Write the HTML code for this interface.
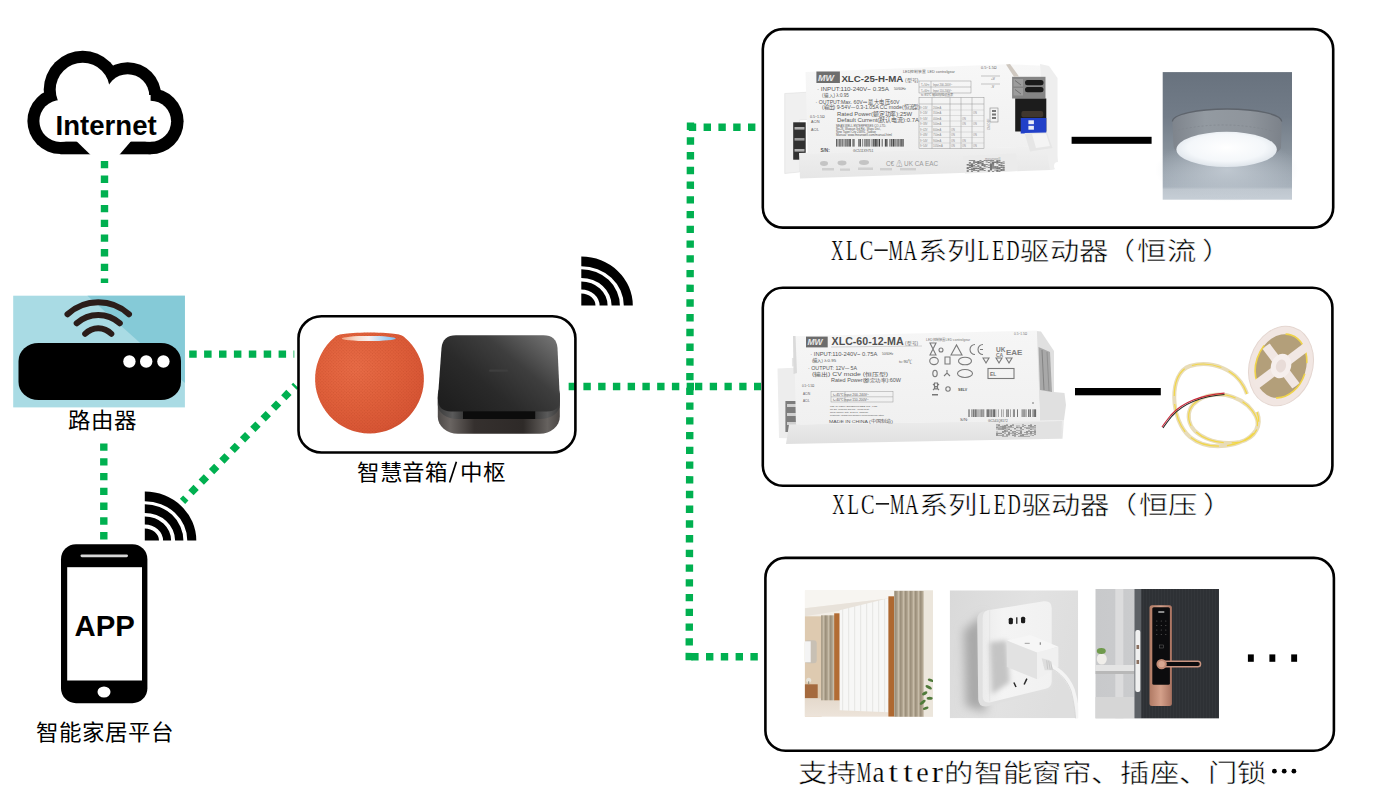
<!DOCTYPE html>
<html lang="zh-CN">
<head>
<meta charset="utf-8">
<title>Matter smart home diagram</title>
<style>
html,body{margin:0;padding:0;background:#fff;}
body{width:1377px;height:803px;position:relative;overflow:hidden;font-family:"Liberation Serif",serif;}
svg.main{position:absolute;left:0;top:0;}
.cj{font-family:"Liberation Serif",serif;font-size:29.3px;fill:#000;stroke:#fff;stroke-width:0.55px;}
.lt{font-family:"Liberation Serif",serif;font-size:29.7px;fill:#000;text-anchor:middle;stroke:#fff;stroke-width:0.25px;}
.sm{font-family:"Liberation Serif",serif;font-size:22.5px;fill:#000;}
.sa{font-family:"Liberation Sans",sans-serif;font-weight:bold;fill:#000;}
</style>
</head>
<body>
<svg class="main" width="1377" height="803" viewBox="0 0 1377 803">
<defs>

</defs>
<!-- green dotted connectors -->
<g stroke="#00b050" stroke-width="7.4" fill="none">
<line x1="104.5" y1="160.9" x2="104.5" y2="283" stroke-dasharray="7.3 7.4"/>
<line x1="103.8" y1="443.4" x2="103.8" y2="539.4" stroke-dasharray="7.4 7.37"/>
<line x1="189.2" y1="354.1" x2="294.3" y2="354.1" stroke-dasharray="7.5 7.4"/>
<line x1="182.5" y1="501.4" x2="295.8" y2="385.4" stroke-dasharray="7.4 7.36" stroke-dashoffset="2.67"/>
<line x1="568.65" y1="386.5" x2="694" y2="386.5" stroke-dasharray="7.4 7.35"/>
<line x1="695" y1="386.5" x2="761" y2="386.5" stroke-dasharray="7.3 7.45"/>
<line x1="690.5" y1="122.6" x2="689.2" y2="660.3" stroke-dasharray="7.35 7.38"/>
<line x1="688.8" y1="127.2" x2="756" y2="127.2" stroke-dasharray="7.4 7.4"/>
<line x1="691.2" y1="656.8" x2="758" y2="656.8" stroke-dasharray="7.4 7.4"/>
</g>
<!-- frames -->
<g fill="none" stroke="#000" stroke-width="2.6">
<rect x="762.8" y="29.1" width="570.4" height="198.5" rx="20" ry="20"/>
<rect x="762.8" y="287.8" width="569.6" height="197.9" rx="20" ry="20"/>
<rect x="765.4" y="557.9" width="568.5" height="192.8" rx="20" ry="20"/>
<rect x="298.5" y="316.3" width="276.9" height="136.2" rx="23" ry="22"/>
</g>
<rect x="1071.6" y="136.8" width="80" height="7" fill="#000"/>
<rect x="1075" y="388" width="85.8" height="7.3" fill="#000"/>
<rect x="1247.9" y="654.4" width="5.9" height="7.4" fill="#000"/>
<rect x="1269.4" y="654.4" width="5.9" height="7.4" fill="#000"/>
<rect x="1291.2" y="654.4" width="5.9" height="7.4" fill="#000"/>
<path transform="translate(581.3 305.6)" d="M0 -49.0A51.5 49.0 0 0 1 51.5 0L42.5 0A42.5 39.4 0 0 0 0 -39.4ZM0 -36.4A38.6 36.4 0 0 1 38.6 0L30.3 0A30.3 27.7 0 0 0 0 -27.7ZM0 -24.2A26.3 24.2 0 0 1 26.3 0L18.3 0A18.3 16.2 0 0 0 0 -16.2ZM0 0L0 -12.2A14.2 12.2 0 0 1 14.2 0Z" fill="#000"/>
<path transform="translate(144.8 540.6)" d="M0 -49.0A51.5 49.0 0 0 1 51.5 0L42.5 0A42.5 39.4 0 0 0 0 -39.4ZM0 -36.4A38.6 36.4 0 0 1 38.6 0L30.3 0A30.3 27.7 0 0 0 0 -27.7ZM0 -24.2A26.3 24.2 0 0 1 26.3 0L18.3 0A18.3 16.2 0 0 0 0 -16.2ZM0 0L0 -12.2A14.2 12.2 0 0 1 14.2 0Z" fill="#000"/>
<!-- cloud -->
<g fill="#000">
<circle cx="60.3" cy="121" r="32.9"/>
<circle cx="82.7" cy="89.8" r="39"/>
<circle cx="127.6" cy="95.8" r="33.6"/>
<circle cx="150.6" cy="121.3" r="33"/>
<rect x="60.3" y="100" width="90.3" height="54.3"/>
</g>
<g fill="#fff">
<circle cx="60.3" cy="121" r="20.9"/>
<circle cx="82.7" cy="89.8" r="27"/>
<circle cx="127.6" cy="95.8" r="21.6"/>
<circle cx="150.6" cy="121.3" r="20.5"/>
<rect x="60.3" y="95" width="90.3" height="46.6"/>
<polygon points="76.3,141 131.2,141 119.2,155 90.7,155"/>
</g>
<!-- router -->
<rect x="13.2" y="295.7" width="171.7" height="111.7" fill="#a9dbe4"/>
<polygon points="87.4,295.7 184.9,295.7 184.9,383" fill="#85cad7"/>
<rect x="18.5" y="343" width="162.5" height="57" rx="20" ry="18" fill="#000"/>
<circle cx="129.4" cy="361.5" r="6.2" fill="#fff"/>
<circle cx="146.2" cy="361.5" r="6.2" fill="#fff"/>
<circle cx="163.4" cy="361.5" r="6.2" fill="#fff"/>
<g fill="none" stroke="#2b1d1a" stroke-width="6" stroke-linecap="round">
<path d="M67.5 314.2A45.5 45.5 0 0 1 129 314.2"/>
<path d="M76.7 323.3A32 32 0 0 1 119.8 323.3"/>
<path d="M85.2 333.8A18 18 0 0 1 111.3 333.8"/>
</g>
<!-- phone -->
<rect x="61" y="544.2" width="86.4" height="159" rx="15" ry="15" fill="#000"/>
<rect x="67.2" y="567.2" width="74.8" height="113.3" fill="#fff"/>
<rect x="80.5" y="554.4" width="47.5" height="2.8" rx="1.4" fill="#d8d8d8"/>
<ellipse cx="104" cy="692" rx="6.5" ry="5.6" fill="#fff"/>


<defs>
<radialGradient id="hpg" cx="0.38" cy="0.35" r="0.75">
<stop offset="0" stop-color="#e86c47"/><stop offset="0.5" stop-color="#e0603b"/><stop offset="0.85" stop-color="#d85635"/><stop offset="1" stop-color="#cc4c2d"/>
</radialGradient>
<linearGradient id="hptop" x1="0" y1="0" x2="1" y2="0">
<stop offset="0" stop-color="#f0a080"/><stop offset="0.25" stop-color="#f6d8c8"/><stop offset="0.5" stop-color="#f8f0f0"/><stop offset="0.75" stop-color="#b8d8f4"/><stop offset="1" stop-color="#80bdf0"/>
</linearGradient>

<pattern id="mesh" width="2.3" height="2.3" patternUnits="userSpaceOnUse" patternTransform="rotate(45)">
<rect width="2.3" height="2.3" fill="none"/><rect width="1.15" height="1.15" fill="#a83818" fill-opacity="0.28"/>
</pattern>
</defs>
<path id="hpshape" d="M334.9 337 C337.5 334.8 343 332.8 369.5 332.6 C396 332.8 401.5 334.8 404.1 337 A54.4 54.4 0 1 1 334.9 337 Z" fill="url(#hpg)"/>
<path d="M334.9 337 C337.5 334.8 343 332.8 369.5 332.6 C396 332.8 401.5 334.8 404.1 337 A54.4 54.4 0 1 1 334.9 337 Z" fill="url(#mesh)"/>
<ellipse cx="368.7" cy="338.5" rx="27" ry="2.6" fill="url(#hptop)"/>


<defs>
<linearGradient id="hubtop" x1="0" y1="0.85" x2="1" y2="0.1">
<stop offset="0" stop-color="#1e1e1e"/><stop offset="0.35" stop-color="#2a2a2a"/><stop offset="0.65" stop-color="#3e3e3e"/><stop offset="1" stop-color="#727272"/>
</linearGradient>
<linearGradient id="hubside" x1="0" y1="0" x2="1" y2="0">
<stop offset="0" stop-color="#4e4a48"/><stop offset="0.1" stop-color="#6a6562"/><stop offset="0.3" stop-color="#35302e"/><stop offset="0.7" stop-color="#2e2a28"/><stop offset="0.9" stop-color="#66625f"/><stop offset="1" stop-color="#4a4644"/>
</linearGradient>
<linearGradient id="hubband" x1="0" y1="0" x2="1" y2="0">
<stop offset="0" stop-color="#3a3a3a"/><stop offset="0.12" stop-color="#5a5a5a"/><stop offset="0.25" stop-color="#2a2a2a"/><stop offset="0.75" stop-color="#2a2a2a"/><stop offset="0.9" stop-color="#5a5a5a"/><stop offset="1" stop-color="#3a3a3a"/>
</linearGradient>
</defs>
<rect x="437.8" y="380" width="122" height="53.8" rx="20" ry="17" fill="url(#hubside)"/>
<rect x="437.8" y="380" width="122" height="39" rx="20" ry="14" fill="url(#hubband)"/>
<path d="M456 335.3 L543.5 335.3 Q556.5 335.3 557.5 348 L559.8 398 Q560.3 411.5 547 411.5 L451 411.5 Q437.6 411.5 437.9 398 L441.5 348 Q442.7 335.3 456 335.3 Z" fill="url(#hubtop)"/>
<rect x="463" y="411.3" width="72.2" height="7.7" fill="#0c0c0c"/>
<rect x="489" y="369.6" width="19" height="2.2" rx="1" fill="#3e3e3e"/>


<defs>
<linearGradient id="clbg" x1="0" y1="0" x2="0" y2="1">
<stop offset="0" stop-color="#68727e"/><stop offset="0.35" stop-color="#727c88"/><stop offset="0.6" stop-color="#86909a"/><stop offset="0.8" stop-color="#9ea8b2"/><stop offset="0.9" stop-color="#a8b2bc"/><stop offset="0.92" stop-color="#bec6ce"/><stop offset="1" stop-color="#c6ced6"/>
</linearGradient>
<radialGradient id="clglow" cx="0.5" cy="0.5" r="0.5">
<stop offset="0" stop-color="#c8d0d8" stop-opacity="0.8"/><stop offset="1" stop-color="#c8d0d8" stop-opacity="0"/>
</radialGradient>
<linearGradient id="clside" x1="0" y1="0" x2="1" y2="0">
<stop offset="0" stop-color="#7e848c"/><stop offset="0.3" stop-color="#939aa1"/><stop offset="0.7" stop-color="#8f959c"/><stop offset="1" stop-color="#7c828a"/>
</linearGradient>
<radialGradient id="cldisc" cx="0.5" cy="0.45" r="0.55">
<stop offset="0" stop-color="#ffffff"/><stop offset="0.7" stop-color="#f4f7fa"/><stop offset="1" stop-color="#dfe5eb"/>
</radialGradient>
</defs>
<rect x="1162.7" y="72.1" width="129.3" height="127.6" fill="url(#clbg)"/>
<ellipse cx="1227" cy="170" rx="72" ry="32" fill="url(#clglow)"/>
<path d="M1172.4 121.6 A54.6 12.6 0 0 1 1281.7 121.6 L1281 148 A54 16 0 0 1 1173.5 146 Z" fill="url(#clside)"/>
<path d="M1172.4 121.6 A54.6 12.6 0 0 1 1281.7 121.6" fill="none" stroke="#5e646c" stroke-width="1.3"/>
<path d="M1174 131 Q1227 118 1280 133" fill="none" stroke="#7f858c" stroke-width="0.7" stroke-dasharray="2 2"/>
<ellipse cx="1226.6" cy="149.4" rx="50.2" ry="17.6" fill="url(#cldisc)"/>


<defs>
<linearGradient id="d1top" x1="0" y1="0" x2="0" y2="1">
<stop offset="0" stop-color="#f7f7f7"/><stop offset="1" stop-color="#f0f0f0"/>
</linearGradient>
<linearGradient id="d1front" x1="0" y1="0" x2="0" y2="1">
<stop offset="0" stop-color="#f0f0f0"/><stop offset="1" stop-color="#e6e6e6"/>
</linearGradient>
</defs>
<!-- left connector -->
<polygon points="784.7,93.5 810.4,92 810.4,119.2 799.5,120 799.5,172 784.7,173.5" fill="#f0f0f0" stroke="#dadada" stroke-width="0.5"/>
<rect x="793.2" y="122.3" width="12.5" height="37.4" fill="#303030"/>
<rect x="794.5" y="127" width="10" height="2.6" fill="#b0b0b0"/>
<rect x="794.5" y="138" width="10" height="2.6" fill="#9a9a9a"/>
<rect x="794.5" y="149" width="10" height="2.6" fill="#b0b0b0"/>
<polygon points="808.8,83.4 813.5,83 813.5,92.7 808.8,93" fill="#e4e4e4"/>
<!-- front face -->
<polygon points="799,153 1056,146 1058.5,168.5 1050,170 800,178.5" fill="url(#d1front)"/>
<!-- top face -->
<polygon points="805.5,72 1007,64.2 1048,66 1052,146 807.7,154.1" fill="url(#d1top)"/>
<!-- right housing -->
<polygon points="1040,64 1049,66 1057.5,78 1057.5,168.3 1050,170 1046,146" fill="#eeeeee"/>
<circle cx="1058" cy="166" r="4" fill="#fff"/>
<!-- terminal block -->
<rect x="1012.1" y="76.8" width="33.4" height="21.7" fill="#858585"/>
<rect x="1013.5" y="79" width="9.5" height="7.5" fill="#9c9c9c"/><rect x="1013.5" y="88" width="9.5" height="7.5" fill="#9c9c9c"/>
<line x1="1015" y1="80.5" x2="1021" y2="85" stroke="#666" stroke-width="0.8"/><line x1="1015" y1="89.5" x2="1021" y2="94" stroke="#666" stroke-width="0.8"/>
<rect x="1025" y="80" width="18.5" height="5.3" rx="2.5" fill="#1a1a1a"/><rect x="1025" y="87" width="18.5" height="5.3" rx="2.5" fill="#1a1a1a"/>
<rect x="1015.2" y="98.5" width="31.1" height="33" fill="#1c1c1c"/>
<rect x="1021.4" y="111" width="21.8" height="6.2" rx="2" fill="#40372f"/>
<rect x="1020.7" y="118" width="25.6" height="15.5" fill="#2140c8"/>
<rect x="1028.4" y="120.3" width="5.5" height="3.9" fill="#e8ecf8"/><rect x="1028.4" y="125.8" width="5.5" height="3.9" fill="#e8ecf8"/>
<polygon points="1024.5,133 1047,132.5 1052.5,148 1030,151.4" fill="#e6e6e6"/>
<polygon points="1032,134 1046,133.5 1050,146 1036,148" fill="#f4f4f4"/>
<polygon points="1006,64.5 1010,64 1019,76.5 1014,76.8" fill="#cfc8c0"/>
<!-- labels -->
<rect x="816.4" y="71.5" width="23.5" height="11.5" fill="#6e6e6e"/>
<text x="818" y="80.5" font-family="Liberation Sans,sans-serif" font-style="italic" font-weight="bold" font-size="9" fill="#e8e8e8">MW</text>
<text x="841.4" y="82.4" font-family="Liberation Sans,sans-serif" font-weight="bold" font-size="9.4" fill="#4a4a4a" textLength="62" lengthAdjust="spacingAndGlyphs">XLC-25-H-MA</text>
<text x="905" y="82.4" font-family="Liberation Sans,sans-serif" font-size="5" fill="#666">(型号)</text>
<text x="903" y="72.5" font-family="Liberation Sans,sans-serif" font-size="3.8" fill="#666">LED控制装置 LED controlgear</text>
<text x="981" y="69" font-family="Liberation Sans,sans-serif" font-size="3.8" fill="#666">0.5~1.5Ω</text>
<g font-family="Liberation Sans,sans-serif" fill="#575757">
<text x="817" y="90.5" font-size="5.6" textLength="72" lengthAdjust="spacingAndGlyphs">· INPUT:110-240V~ 0.35A</text>
<text x="894" y="89.5" font-size="3.2">50/60Hz</text>
<text x="822" y="96.5" font-size="4.6">(输入) λ:0.95</text>
<text x="815.5" y="103.5" font-size="5.6" textLength="84" lengthAdjust="spacingAndGlyphs">· OUTPUT:Max. 60V⎓ 最大电压60V</text>
<text x="822" y="109" font-size="5.4" textLength="98" lengthAdjust="spacingAndGlyphs">(输出) 9-54V⎓ 0.3-1.05A CC mode(恒流型)</text>
<text x="837" y="115.5" font-size="6" textLength="75" lengthAdjust="spacingAndGlyphs">Rated Power(额定功率):25W</text>
<text x="837" y="122" font-size="6" textLength="82" lengthAdjust="spacingAndGlyphs">Default Current(默认电流):0.7A</text>
<text x="810" y="118" font-size="3.6">0.5~1.5Ω</text>
<text x="811" y="123" font-size="3.6">AC/N</text>
<text x="811" y="131" font-size="3.6">AC/L</text>
<text x="836" y="127" font-size="2.6" textLength="50" lengthAdjust="spacingAndGlyphs">MEAN WELL ENTERPRISES CO.,LTD.</text>
<text x="836" y="130" font-size="2.6" textLength="45" lengthAdjust="spacingAndGlyphs">No.28, Wuquan 3rd Rd., Wugu Dist.,</text>
<text x="836" y="133" font-size="2.6" textLength="40" lengthAdjust="spacingAndGlyphs">New Taipei City 24891, Taiwan</text>
<text x="836" y="136" font-size="2.6" textLength="56" lengthAdjust="spacingAndGlyphs">Manual: www.meanwell.com/manual.html</text>
<text x="820.5" y="152" font-size="4.6" font-weight="bold" fill="#555">S/N:</text>
<text x="853" y="151.5" font-size="3.4">GC511X9751</text>
</g>
<g stroke="#8a8a8a" stroke-width="0.45" fill="none">
<rect x="919" y="81" width="52" height="12"/>
<line x1="919" y1="87" x2="971" y2="87"/>
<line x1="931" y1="81" x2="931" y2="93"/>
<rect x="919" y="97.5" width="65" height="51"/>
<line x1="919" y1="104" x2="984" y2="104"/>
<line x1="932" y1="97.5" x2="932" y2="148.5"/>
<line x1="950" y1="97.5" x2="950" y2="148.5"/>
<line x1="961" y1="97.5" x2="961" y2="148.5"/>
<line x1="972" y1="97.5" x2="972" y2="148.5"/>
</g>
<g stroke="#b0b0b0" stroke-width="0.35">
<line x1="919" y1="110" x2="984" y2="110"/><line x1="919" y1="115.5" x2="984" y2="115.5"/>
<line x1="919" y1="121" x2="984" y2="121"/><line x1="919" y1="126.5" x2="984" y2="126.5"/>
<line x1="919" y1="132" x2="984" y2="132"/><line x1="919" y1="137.5" x2="984" y2="137.5"/>
<line x1="919" y1="143" x2="984" y2="143"/>
</g>
<g font-family="Liberation Sans,sans-serif" font-size="2.6" fill="#777">
<text x="933" y="86">Input 200-240V~</text><text x="933" y="92">Input 110-200V~</text>
<text x="921" y="86">Tₐ:50℃</text><text x="921" y="92">Tₐ:40℃</text>
<text x="921" y="96" font-size="3.4">tc:85℃ 输出规格设置表</text>
</g>
<g fill="#8a8a8a" font-family="Liberation Sans,sans-serif" font-size="2.6">
<text x="920" y="108.5">9~24V</text><text x="933" y="108.5">200mA</text>
<text x="920" y="114">9~24V</text><text x="933" y="114">350mA</text>
<text x="920" y="119.5">9~34V</text><text x="933" y="119.5">400mA</text>
<text x="920" y="125">9~38V</text><text x="933" y="125">500mA</text>
<text x="920" y="130.5">9~42V</text><text x="933" y="130.5">600mA</text>
<text x="920" y="136">9~48V</text><text x="933" y="136">750mA</text>
<text x="920" y="141.5">9~54V</text><text x="933" y="141.5">900mA</text>
<text x="920" y="147">9~54V</text><text x="933" y="147">1050mA</text>
<text x="951" y="130.5">ON</text><text x="951" y="136">ON</text><text x="951" y="141.5">ON</text><text x="951" y="147">ON</text>
<text x="962" y="119.5">ON</text><text x="962" y="125">ON</text><text x="962" y="141.5">ON</text><text x="962" y="147">ON</text>
<text x="973" y="114">ON</text><text x="973" y="125">ON</text><text x="973" y="136">ON</text><text x="973" y="147">ON</text>
</g>
<rect x="990" y="108" width="8" height="14" fill="none" stroke="#8a8a8a" stroke-width="0.6"/>
<rect x="992" y="110" width="4" height="2" fill="#777"/><rect x="992" y="113.5" width="4" height="2" fill="#777"/><rect x="992" y="117" width="4" height="2" fill="#777"/>
<text x="990" y="130" font-family="Liberation Sans,sans-serif" font-size="3" fill="#888" transform="rotate(-90 990 130)">ON OFF</text>
<line x1="981" y1="76" x2="1000" y2="76" stroke="#777" stroke-width="0.4"/>
<line x1="981" y1="84" x2="1000" y2="84" stroke="#777" stroke-width="0.4"/>
<text x="991" y="80" font-family="Liberation Sans,sans-serif" font-size="3.2" fill="#666">+V</text>
<text x="991" y="88" font-family="Liberation Sans,sans-serif" font-size="3.2" fill="#666">-V</text>
<rect x="836.25" y="139" width="0.8" height="7.6" fill="#333"/><rect x="837.65" y="139" width="0.5" height="7.6" fill="#333"/><rect x="838.75" y="139" width="0.8" height="7.6" fill="#333"/><rect x="839.85" y="139" width="0.4" height="7.6" fill="#333"/><rect x="840.55" y="139" width="0.4" height="7.6" fill="#333"/><rect x="841.55" y="139" width="0.4" height="7.6" fill="#333"/><rect x="842.40" y="139" width="0.8" height="7.6" fill="#333"/><rect x="843.80" y="139" width="0.5" height="7.6" fill="#333"/><rect x="844.90" y="139" width="0.4" height="7.6" fill="#333"/><rect x="845.60" y="139" width="0.5" height="7.6" fill="#333"/><rect x="846.55" y="139" width="0.6" height="7.6" fill="#333"/><rect x="847.45" y="139" width="1.0" height="7.6" fill="#333"/><rect x="848.90" y="139" width="0.8" height="7.6" fill="#333"/><rect x="850.00" y="139" width="0.8" height="7.6" fill="#333"/><rect x="852.55" y="139" width="0.6" height="7.6" fill="#333"/><rect x="853.45" y="139" width="1.0" height="7.6" fill="#333"/><rect x="858.05" y="139" width="0.4" height="7.6" fill="#333"/><rect x="858.75" y="139" width="0.8" height="7.6" fill="#333"/><rect x="860.15" y="139" width="0.8" height="7.6" fill="#333"/><rect x="862.50" y="139" width="0.6" height="7.6" fill="#333"/><rect x="864.25" y="139" width="0.5" height="7.6" fill="#333"/><rect x="865.05" y="139" width="0.4" height="7.6" fill="#333"/><rect x="865.90" y="139" width="0.5" height="7.6" fill="#333"/><rect x="866.70" y="139" width="0.8" height="7.6" fill="#333"/><rect x="868.10" y="139" width="0.5" height="7.6" fill="#333"/><rect x="869.05" y="139" width="0.4" height="7.6" fill="#333"/><rect x="869.75" y="139" width="0.4" height="7.6" fill="#333"/><rect x="871.65" y="139" width="0.5" height="7.6" fill="#333"/><rect x="872.75" y="139" width="1.0" height="7.6" fill="#333"/><rect x="874.05" y="139" width="0.5" height="7.6" fill="#333"/><rect x="874.85" y="139" width="1.0" height="7.6" fill="#333"/><rect x="876.30" y="139" width="0.8" height="7.6" fill="#333"/><rect x="877.40" y="139" width="0.5" height="7.6" fill="#333"/><rect x="878.20" y="139" width="0.4" height="7.6" fill="#333"/><rect x="879.05" y="139" width="1.0" height="7.6" fill="#333"/><rect x="881.75" y="139" width="0.8" height="7.6" fill="#333"/><rect x="884.85" y="139" width="1.0" height="7.6" fill="#333"/><rect x="886.30" y="139" width="0.8" height="7.6" fill="#333"/><rect x="887.55" y="139" width="0.4" height="7.6" fill="#333"/><rect x="889.55" y="139" width="0.8" height="7.6" fill="#333"/><rect x="890.95" y="139" width="0.8" height="7.6" fill="#333"/><rect x="892.05" y="139" width="0.4" height="7.6" fill="#333"/><rect x="892.90" y="139" width="1.0" height="7.6" fill="#333"/><rect x="894.50" y="139" width="1.0" height="7.6" fill="#333"/><rect x="896.60" y="139" width="0.6" height="7.6" fill="#333"/><rect x="897.50" y="139" width="0.4" height="7.6" fill="#333"/><rect x="898.35" y="139" width="0.6" height="7.6" fill="#333"/><rect x="899.25" y="139" width="0.4" height="7.6" fill="#333"/><rect x="900.10" y="139" width="0.6" height="7.6" fill="#333"/><rect x="901.30" y="139" width="1.0" height="7.6" fill="#333"/><rect x="902.60" y="139" width="1.0" height="7.6" fill="#333"/><g fill="#c4c4c4"><ellipse cx="824" cy="163.5" rx="4" ry="2.4"/><ellipse cx="842" cy="163" rx="4.5" ry="2.4"/>
<ellipse cx="864" cy="162.5" rx="5" ry="2.4"/></g><text x="886" y="166" font-family="Liberation Sans,sans-serif" font-size="7" fill="#9a9a9a" textLength="52" lengthAdjust="spacingAndGlyphs">C€ ⚠ UK CA EAC</text><g fill="#d0d0d0"><rect x="822" y="168" width="12" height="2.5"/><rect x="840" y="168.5" width="10" height="2.3"/><rect x="858" y="167.5" width="15" height="2.5"/><rect x="880" y="168" width="12" height="2.4"/><rect x="900" y="168" width="16" height="2.4"/></g><polygon points="963,156 1016,153.5 1018,171 965,173.5" fill="#ebebeb"/><text x="985" y="159.5" font-family="Liberation Sans,sans-serif" font-size="3.6" fill="#999">meanwell</text><rect x="966.70" y="164.13" width="2.11" height="0.62" fill="#505050"/><rect x="966.70" y="164.76" width="2.11" height="0.62" fill="#505050"/><rect x="966.70" y="167.24" width="2.11" height="0.62" fill="#505050"/><rect x="966.70" y="167.87" width="2.11" height="0.62" fill="#505050"/><rect x="966.70" y="168.49" width="2.11" height="0.62" fill="#505050"/><rect x="966.70" y="170.36" width="2.11" height="0.62" fill="#505050"/><rect x="966.70" y="170.98" width="2.11" height="0.62" fill="#505050"/><rect x="968.81" y="160.40" width="2.11" height="0.62" fill="#505050"/><rect x="968.81" y="162.27" width="2.11" height="0.62" fill="#505050"/><rect x="968.81" y="163.51" width="2.11" height="0.62" fill="#505050"/><rect x="968.81" y="164.76" width="2.11" height="0.62" fill="#505050"/><rect x="968.81" y="165.38" width="2.11" height="0.62" fill="#505050"/><rect x="968.81" y="166.62" width="2.11" height="0.62" fill="#505050"/><rect x="968.81" y="167.24" width="2.11" height="0.62" fill="#505050"/><rect x="968.81" y="169.11" width="2.11" height="0.62" fill="#505050"/><rect x="970.92" y="160.40" width="2.11" height="0.62" fill="#505050"/><rect x="970.92" y="163.51" width="2.11" height="0.62" fill="#505050"/><rect x="970.92" y="164.13" width="2.11" height="0.62" fill="#505050"/><rect x="970.92" y="164.76" width="2.11" height="0.62" fill="#505050"/><rect x="970.92" y="165.38" width="2.11" height="0.62" fill="#505050"/><rect x="970.92" y="166.00" width="2.11" height="0.62" fill="#505050"/><rect x="970.92" y="166.62" width="2.11" height="0.62" fill="#505050"/><rect x="970.92" y="167.87" width="2.11" height="0.62" fill="#505050"/><rect x="970.92" y="169.11" width="2.11" height="0.62" fill="#505050"/><rect x="970.92" y="169.73" width="2.11" height="0.62" fill="#505050"/><rect x="970.92" y="170.98" width="2.11" height="0.62" fill="#505050"/><rect x="973.03" y="160.40" width="2.11" height="0.62" fill="#505050"/><rect x="973.03" y="161.02" width="2.11" height="0.62" fill="#505050"/><rect x="973.03" y="162.27" width="2.11" height="0.62" fill="#505050"/><rect x="973.03" y="163.51" width="2.11" height="0.62" fill="#505050"/><rect x="973.03" y="165.38" width="2.11" height="0.62" fill="#505050"/><rect x="973.03" y="166.62" width="2.11" height="0.62" fill="#505050"/><rect x="973.03" y="167.87" width="2.11" height="0.62" fill="#505050"/><rect x="973.03" y="168.49" width="2.11" height="0.62" fill="#505050"/><rect x="973.03" y="169.11" width="2.11" height="0.62" fill="#505050"/><rect x="973.03" y="170.36" width="2.11" height="0.62" fill="#505050"/><rect x="975.14" y="161.64" width="2.11" height="0.62" fill="#505050"/><rect x="975.14" y="162.27" width="2.11" height="0.62" fill="#505050"/><rect x="975.14" y="164.13" width="2.11" height="0.62" fill="#505050"/><rect x="975.14" y="166.62" width="2.11" height="0.62" fill="#505050"/><rect x="975.14" y="167.87" width="2.11" height="0.62" fill="#505050"/><rect x="975.14" y="168.49" width="2.11" height="0.62" fill="#505050"/><rect x="975.14" y="170.36" width="2.11" height="0.62" fill="#505050"/><rect x="977.26" y="161.02" width="2.11" height="0.62" fill="#505050"/><rect x="977.26" y="161.64" width="2.11" height="0.62" fill="#505050"/><rect x="977.26" y="162.27" width="2.11" height="0.62" fill="#505050"/><rect x="977.26" y="162.89" width="2.11" height="0.62" fill="#505050"/><rect x="977.26" y="163.51" width="2.11" height="0.62" fill="#505050"/><rect x="977.26" y="165.38" width="2.11" height="0.62" fill="#505050"/><rect x="977.26" y="166.00" width="2.11" height="0.62" fill="#505050"/><rect x="977.26" y="167.87" width="2.11" height="0.62" fill="#505050"/><rect x="977.26" y="168.49" width="2.11" height="0.62" fill="#505050"/><rect x="977.26" y="170.36" width="2.11" height="0.62" fill="#505050"/><rect x="977.26" y="170.98" width="2.11" height="0.62" fill="#505050"/><rect x="979.37" y="160.40" width="2.11" height="0.62" fill="#505050"/><rect x="979.37" y="161.64" width="2.11" height="0.62" fill="#505050"/><rect x="979.37" y="162.27" width="2.11" height="0.62" fill="#505050"/><rect x="979.37" y="163.51" width="2.11" height="0.62" fill="#505050"/><rect x="979.37" y="166.62" width="2.11" height="0.62" fill="#505050"/><rect x="979.37" y="167.24" width="2.11" height="0.62" fill="#505050"/><rect x="979.37" y="167.87" width="2.11" height="0.62" fill="#505050"/><rect x="979.37" y="169.11" width="2.11" height="0.62" fill="#505050"/><rect x="979.37" y="169.73" width="2.11" height="0.62" fill="#505050"/><rect x="981.48" y="161.02" width="2.11" height="0.62" fill="#505050"/><rect x="981.48" y="161.64" width="2.11" height="0.62" fill="#505050"/><rect x="981.48" y="162.89" width="2.11" height="0.62" fill="#505050"/><rect x="981.48" y="163.51" width="2.11" height="0.62" fill="#505050"/><rect x="981.48" y="164.13" width="2.11" height="0.62" fill="#505050"/><rect x="981.48" y="164.76" width="2.11" height="0.62" fill="#505050"/><rect x="981.48" y="165.38" width="2.11" height="0.62" fill="#505050"/><rect x="981.48" y="167.87" width="2.11" height="0.62" fill="#505050"/><rect x="981.48" y="168.49" width="2.11" height="0.62" fill="#505050"/><rect x="981.48" y="169.11" width="2.11" height="0.62" fill="#505050"/><rect x="981.48" y="169.73" width="2.11" height="0.62" fill="#505050"/><rect x="983.59" y="160.40" width="2.11" height="0.62" fill="#505050"/><rect x="983.59" y="164.13" width="2.11" height="0.62" fill="#505050"/><rect x="983.59" y="165.38" width="2.11" height="0.62" fill="#505050"/><rect x="983.59" y="166.00" width="2.11" height="0.62" fill="#505050"/><rect x="983.59" y="167.87" width="2.11" height="0.62" fill="#505050"/><rect x="983.59" y="170.36" width="2.11" height="0.62" fill="#505050"/><rect x="985.70" y="160.40" width="2.11" height="0.62" fill="#505050"/><rect x="985.70" y="161.64" width="2.11" height="0.62" fill="#505050"/><rect x="985.70" y="164.13" width="2.11" height="0.62" fill="#505050"/><rect x="985.70" y="166.62" width="2.11" height="0.62" fill="#505050"/><rect x="987.81" y="160.40" width="2.11" height="0.62" fill="#505050"/><rect x="987.81" y="162.27" width="2.11" height="0.62" fill="#505050"/><rect x="987.81" y="164.76" width="2.11" height="0.62" fill="#505050"/><rect x="987.81" y="167.24" width="2.11" height="0.62" fill="#505050"/><rect x="987.81" y="170.36" width="2.11" height="0.62" fill="#505050"/><rect x="987.81" y="170.98" width="2.11" height="0.62" fill="#505050"/><rect x="989.92" y="160.40" width="2.11" height="0.62" fill="#505050"/><rect x="989.92" y="161.64" width="2.11" height="0.62" fill="#505050"/><rect x="989.92" y="163.51" width="2.11" height="0.62" fill="#505050"/><rect x="989.92" y="164.13" width="2.11" height="0.62" fill="#505050"/><rect x="989.92" y="164.76" width="2.11" height="0.62" fill="#505050"/><rect x="989.92" y="165.38" width="2.11" height="0.62" fill="#505050"/><rect x="989.92" y="166.00" width="2.11" height="0.62" fill="#505050"/><rect x="989.92" y="166.62" width="2.11" height="0.62" fill="#505050"/><rect x="989.92" y="167.24" width="2.11" height="0.62" fill="#505050"/><rect x="989.92" y="167.87" width="2.11" height="0.62" fill="#505050"/><rect x="989.92" y="168.49" width="2.11" height="0.62" fill="#505050"/><rect x="989.92" y="169.11" width="2.11" height="0.62" fill="#505050"/><rect x="989.92" y="169.73" width="2.11" height="0.62" fill="#505050"/><rect x="992.03" y="160.40" width="2.11" height="0.62" fill="#505050"/><rect x="992.03" y="161.64" width="2.11" height="0.62" fill="#505050"/><rect x="992.03" y="162.27" width="2.11" height="0.62" fill="#505050"/><rect x="992.03" y="162.89" width="2.11" height="0.62" fill="#505050"/><rect x="992.03" y="163.51" width="2.11" height="0.62" fill="#505050"/><rect x="992.03" y="164.13" width="2.11" height="0.62" fill="#505050"/><rect x="992.03" y="165.38" width="2.11" height="0.62" fill="#505050"/><rect x="992.03" y="166.00" width="2.11" height="0.62" fill="#505050"/><rect x="992.03" y="167.24" width="2.11" height="0.62" fill="#505050"/><rect x="992.03" y="168.49" width="2.11" height="0.62" fill="#505050"/><rect x="992.03" y="170.98" width="2.11" height="0.62" fill="#505050"/><rect x="994.14" y="161.64" width="2.11" height="0.62" fill="#505050"/><rect x="994.14" y="162.27" width="2.11" height="0.62" fill="#505050"/><rect x="994.14" y="166.00" width="2.11" height="0.62" fill="#505050"/><rect x="994.14" y="167.24" width="2.11" height="0.62" fill="#505050"/><rect x="994.14" y="167.87" width="2.11" height="0.62" fill="#505050"/><rect x="994.14" y="169.73" width="2.11" height="0.62" fill="#505050"/><rect x="996.26" y="160.40" width="2.11" height="0.62" fill="#505050"/><rect x="996.26" y="161.02" width="2.11" height="0.62" fill="#505050"/><rect x="996.26" y="161.64" width="2.11" height="0.62" fill="#505050"/><rect x="996.26" y="162.27" width="2.11" height="0.62" fill="#505050"/><rect x="996.26" y="163.51" width="2.11" height="0.62" fill="#505050"/><rect x="996.26" y="166.00" width="2.11" height="0.62" fill="#505050"/><rect x="996.26" y="167.24" width="2.11" height="0.62" fill="#505050"/><rect x="996.26" y="167.87" width="2.11" height="0.62" fill="#505050"/><rect x="996.26" y="168.49" width="2.11" height="0.62" fill="#505050"/><rect x="996.26" y="169.73" width="2.11" height="0.62" fill="#505050"/><rect x="996.26" y="170.36" width="2.11" height="0.62" fill="#505050"/><rect x="996.26" y="170.98" width="2.11" height="0.62" fill="#505050"/><rect x="998.37" y="160.40" width="2.11" height="0.62" fill="#505050"/><rect x="998.37" y="161.64" width="2.11" height="0.62" fill="#505050"/><rect x="998.37" y="162.27" width="2.11" height="0.62" fill="#505050"/><rect x="998.37" y="164.13" width="2.11" height="0.62" fill="#505050"/><rect x="998.37" y="165.38" width="2.11" height="0.62" fill="#505050"/><rect x="998.37" y="167.24" width="2.11" height="0.62" fill="#505050"/><rect x="998.37" y="167.87" width="2.11" height="0.62" fill="#505050"/><rect x="998.37" y="168.49" width="2.11" height="0.62" fill="#505050"/><rect x="998.37" y="169.73" width="2.11" height="0.62" fill="#505050"/><rect x="998.37" y="170.98" width="2.11" height="0.62" fill="#505050"/><rect x="1000.48" y="162.27" width="2.11" height="0.62" fill="#505050"/><rect x="1000.48" y="163.51" width="2.11" height="0.62" fill="#505050"/><rect x="1000.48" y="164.76" width="2.11" height="0.62" fill="#505050"/><rect x="1000.48" y="165.38" width="2.11" height="0.62" fill="#505050"/><rect x="1000.48" y="166.62" width="2.11" height="0.62" fill="#505050"/><rect x="1000.48" y="167.24" width="2.11" height="0.62" fill="#505050"/><rect x="1000.48" y="169.11" width="2.11" height="0.62" fill="#505050"/><rect x="1000.48" y="169.73" width="2.11" height="0.62" fill="#505050"/><rect x="1000.48" y="170.36" width="2.11" height="0.62" fill="#505050"/><rect x="1002.59" y="161.64" width="2.11" height="0.62" fill="#505050"/><rect x="1002.59" y="162.89" width="2.11" height="0.62" fill="#505050"/><rect x="1002.59" y="165.38" width="2.11" height="0.62" fill="#505050"/><rect x="1002.59" y="166.62" width="2.11" height="0.62" fill="#505050"/><rect x="1002.59" y="167.24" width="2.11" height="0.62" fill="#505050"/><rect x="1002.59" y="168.49" width="2.11" height="0.62" fill="#505050"/><rect x="1002.59" y="169.11" width="2.11" height="0.62" fill="#505050"/><rect x="1002.59" y="170.36" width="2.11" height="0.62" fill="#505050"/>

<defs>
<linearGradient id="d2top" x1="0" y1="0" x2="0" y2="1">
<stop offset="0" stop-color="#f6f6f6"/><stop offset="1" stop-color="#f0f0f0"/>
</linearGradient>
<linearGradient id="d2front" x1="0" y1="0" x2="0" y2="1">
<stop offset="0" stop-color="#ececec"/><stop offset="1" stop-color="#e0e0e0"/>
</linearGradient>
</defs>
<!-- left block -->
<polygon points="777.5,368.6 800,367.5 800.5,438.7 779,438" fill="#ededed"/>
<polygon points="791.9,358 800.8,357 800.8,366 791.9,366.5" fill="#e6e6e6"/>
<rect x="785.4" y="401" width="10.5" height="31" fill="#7c7c7c"/>
<rect x="787" y="404" width="9.5" height="3" fill="#d0d0d0"/><rect x="787" y="413" width="9.5" height="3" fill="#d0d0d0"/><rect x="787" y="422" width="9.5" height="3" fill="#d0d0d0"/>
<!-- right side part -->
<polygon points="1036,331 1041,331.5 1054,351 1054,392 1064.5,393 1066,405 1064,420 1040,421" fill="#e0e0e0"/>
<polygon points="1038.5,347 1050,352 1052,392 1040,390" fill="#a8a8a8"/>
<line x1="1042" y1="350" x2="1044" y2="390" stroke="#7a7a7a" stroke-width="0.8"/>
<line x1="1047" y1="352" x2="1049" y2="391" stroke="#8a8a8a" stroke-width="0.8"/>
<!-- front face -->
<polygon points="789,424.6 1064,420 1062.5,438.7 786,444" fill="url(#d2front)"/>
<!-- top face -->
<polygon points="794,336.3 1036.9,330.5 1040,421 796,424.6" fill="url(#d2top)"/>
<polygon points="793,336 795.5,336 797,373 793.5,374" fill="#dadada"/>
<rect x="806" y="336.6" width="21.7" height="10.8" fill="#6c6c6c"/>
<text x="807.5" y="344.8" font-family="Liberation Sans,sans-serif" font-style="italic" font-weight="bold" font-size="8.5" fill="#e8e8e8">MW</text>
<text x="831.6" y="345.2" font-family="Liberation Sans,sans-serif" font-weight="bold" font-size="10.2" fill="#505050" textLength="72" lengthAdjust="spacingAndGlyphs">XLC-60-12-MA</text>
<text x="905" y="344.5" font-family="Liberation Sans,sans-serif" font-size="4.6" fill="#666">(型号)</text>
<line x1="831" y1="347" x2="922" y2="346" stroke="#999" stroke-width="0.4"/>
<text x="926" y="340.5" font-family="Liberation Sans,sans-serif" font-size="3.4" fill="#777">LED控制装置 LED controlgear</text>
<text x="1014" y="335" font-family="Liberation Sans,sans-serif" font-size="3.2" fill="#777">0.5~1.5Ω</text>
<g font-family="Liberation Sans,sans-serif" fill="#5a5a5a">
<text x="810.3" y="355.8" font-size="5" textLength="67" lengthAdjust="spacingAndGlyphs">· INPUT:110-240V~ 0.75A</text>
<text x="882" y="355" font-size="3">50/60Hz</text>
<text x="812" y="361.5" font-size="4.4">(输入) λ:0.95</text>
<text x="808" y="369.5" font-size="5" textLength="49" lengthAdjust="spacingAndGlyphs">· OUTPUT: 12V⎓ 5A</text>
<text x="812" y="375.8" font-size="5" textLength="76" lengthAdjust="spacingAndGlyphs">(输出)  CV mode (恒压型)</text>
<text x="831" y="381.5" font-size="5" textLength="70" lengthAdjust="spacingAndGlyphs">Rated Power(额定功率):60W</text>
<text x="899" y="363" font-size="4.2">tc:90℃</text>
<text x="802" y="387" font-size="3">0.5~1.5Ω</text>
<text x="803" y="395" font-size="3">AC/N</text>
<text x="803" y="402" font-size="3">AC/L</text>
<text x="833" y="396" font-size="3.4">tₐ:45℃ Input 200-240V~</text>
<text x="833" y="401" font-size="3.4">tₐ:40℃ Input 110-200V~</text>
<text x="830" y="406.5" font-size="2.3" textLength="48" lengthAdjust="spacingAndGlyphs">MEAN WELL ENTERPRISES CO., LTD.</text>
<text x="830" y="409.5" font-size="2.3" textLength="40" lengthAdjust="spacingAndGlyphs">No.28, Wuquan 3rd Rd., Wugu Dist.,</text>
<text x="830" y="412.5" font-size="2.3" textLength="38" lengthAdjust="spacingAndGlyphs">New Taipei City 24891, Taiwan</text>
<text x="830" y="415.5" font-size="2.3" textLength="54" lengthAdjust="spacingAndGlyphs">Manual: www.meanwell.com/manual.html</text>
<text x="829" y="423" font-size="4" textLength="64" lengthAdjust="spacingAndGlyphs">MADE IN CHINA (中国制造)</text>
<text x="960" y="421" font-size="4.2">S/N:</text>
<text x="988" y="421.5" font-size="3.2">GC541Q8172</text>
<text x="958" y="390.5" font-size="3.6" font-weight="bold">SELV</text>
</g>
<g fill="none" stroke="#9a9a9a" stroke-width="0.5">
<rect x="831" y="391.5" width="62" height="10.5"/>
<line x1="831" y1="396.8" x2="893" y2="396.8"/>
<line x1="845" y1="391.5" x2="845" y2="402"/>
</g>
<!-- certification marks -->
<g fill="none" stroke="#7a7a7a" stroke-width="1.1">
<path d="M930 343 l6 0 l-3 6 l3 6 l-6 0 l3 -6z"/>
<circle cx="941" cy="350" r="2"/>
<path d="M951 355 l5.5 -10 l5.5 10 z"/>
<path d="M975 344.5 a5 5 0 1 0 0 10"/>
<path d="M983 344.5 a5 5 0 1 0 0 10 M980 349.5 h3"/>
<ellipse cx="934" cy="361" rx="4.3" ry="3.6"/>
<path d="M945 357 h5 v7 h-5 z"/>
<ellipse cx="965" cy="361" rx="6.5" ry="3.8"/>
<path d="M983 358 l3 5 l3 -5 z M996 358 l3 5 l3 -5 z M1006 358 l3 5 l3 -5 z"/>
<ellipse cx="935" cy="373.5" rx="2.2" ry="3.2"/>
<path d="M947 370 v3 M944 376 l3 -3 l3 3"/>
<ellipse cx="965" cy="373.5" rx="7.5" ry="4"/>
<rect x="988" y="368.5" width="26" height="10"/>
<path d="M933 384 l6 6 M939 384 l-6 6 M934.5 383 h3 v6 h-3z"/>
<circle cx="948" cy="389" r="2.2"/>
</g>
<text x="990" y="375.5" font-family="Liberation Sans,sans-serif" font-size="5" font-weight="bold" fill="#777">EL</text>
<text x="996" y="351.5" font-family="Liberation Sans,sans-serif" font-size="6.5" font-weight="bold" fill="#808080">UK</text>
<text x="996" y="357" font-family="Liberation Sans,sans-serif" font-size="5" font-weight="bold" fill="#808080">CA</text>
<text x="1006" y="355" font-family="Liberation Sans,sans-serif" font-size="8" font-weight="bold" fill="#808080">EAE</text>
<rect x="932" y="394" width="6" height="1.5" fill="#777"/>
<circle cx="1033" cy="403" r="0.8" fill="#666"/>
<rect x="968.00" y="409.3" width="0.5" height="7.7" fill="#5a5a5a"/><rect x="968.95" y="409.3" width="0.6" height="7.7" fill="#5a5a5a"/><rect x="971.25" y="409.3" width="0.5" height="7.7" fill="#5a5a5a"/><rect x="972.05" y="409.3" width="0.4" height="7.7" fill="#5a5a5a"/><rect x="973.05" y="409.3" width="0.8" height="7.7" fill="#5a5a5a"/><rect x="974.15" y="409.3" width="0.5" height="7.7" fill="#5a5a5a"/><rect x="975.10" y="409.3" width="0.8" height="7.7" fill="#5a5a5a"/><rect x="976.20" y="409.3" width="0.6" height="7.7" fill="#5a5a5a"/><rect x="977.40" y="409.3" width="0.4" height="7.7" fill="#5a5a5a"/><rect x="978.25" y="409.3" width="0.4" height="7.7" fill="#5a5a5a"/><rect x="979.65" y="409.3" width="0.8" height="7.7" fill="#5a5a5a"/><rect x="981.05" y="409.3" width="0.6" height="7.7" fill="#5a5a5a"/><rect x="981.95" y="409.3" width="0.5" height="7.7" fill="#5a5a5a"/><rect x="982.90" y="409.3" width="0.5" height="7.7" fill="#5a5a5a"/><rect x="983.70" y="409.3" width="0.5" height="7.7" fill="#5a5a5a"/><rect x="986.10" y="409.3" width="0.4" height="7.7" fill="#5a5a5a"/><rect x="987.10" y="409.3" width="0.8" height="7.7" fill="#5a5a5a"/><rect x="988.20" y="409.3" width="1.0" height="7.7" fill="#5a5a5a"/><rect x="989.65" y="409.3" width="0.8" height="7.7" fill="#5a5a5a"/><rect x="990.90" y="409.3" width="0.8" height="7.7" fill="#5a5a5a"/><rect x="992.00" y="409.3" width="0.4" height="7.7" fill="#5a5a5a"/><rect x="993.00" y="409.3" width="0.8" height="7.7" fill="#5a5a5a"/><rect x="994.10" y="409.3" width="1.0" height="7.7" fill="#5a5a5a"/><rect x="995.70" y="409.3" width="0.5" height="7.7" fill="#5a5a5a"/><rect x="997.95" y="409.3" width="0.5" height="7.7" fill="#5a5a5a"/><rect x="1001.15" y="409.3" width="0.5" height="7.7" fill="#5a5a5a"/><rect x="1002.90" y="409.3" width="0.5" height="7.7" fill="#5a5a5a"/><rect x="1006.40" y="409.3" width="1.0" height="7.7" fill="#5a5a5a"/><rect x="1007.85" y="409.3" width="0.8" height="7.7" fill="#5a5a5a"/><rect x="1010.05" y="409.3" width="0.5" height="7.7" fill="#5a5a5a"/><rect x="1012.95" y="409.3" width="0.6" height="7.7" fill="#5a5a5a"/><rect x="1013.85" y="409.3" width="0.8" height="7.7" fill="#5a5a5a"/><rect x="1017.20" y="409.3" width="0.8" height="7.7" fill="#5a5a5a"/><rect x="1021.70" y="409.3" width="0.8" height="7.7" fill="#5a5a5a"/><rect x="1022.95" y="409.3" width="0.6" height="7.7" fill="#5a5a5a"/><rect x="1024.15" y="409.3" width="0.6" height="7.7" fill="#5a5a5a"/><rect x="1025.35" y="409.3" width="0.4" height="7.7" fill="#5a5a5a"/><rect x="1026.05" y="409.3" width="0.4" height="7.7" fill="#5a5a5a"/><rect x="1028.00" y="409.3" width="0.8" height="7.7" fill="#5a5a5a"/><rect x="1029.25" y="409.3" width="0.5" height="7.7" fill="#5a5a5a"/><rect x="1030.05" y="409.3" width="0.8" height="7.7" fill="#5a5a5a"/><rect x="1032.25" y="409.3" width="0.4" height="7.7" fill="#5a5a5a"/><rect x="1032.95" y="409.3" width="0.6" height="7.7" fill="#5a5a5a"/><rect x="1034.00" y="409.3" width="0.8" height="7.7" fill="#5a5a5a"/><rect x="1035.10" y="409.3" width="1.0" height="7.7" fill="#5a5a5a"/><polygon points="996,424 1062,421 1061,437.5 998,439.5" fill="#e2e2e2"/><rect x="996.00" y="424.50" width="2.00" height="0.60" fill="#7a7a7a"/><rect x="996.00" y="425.70" width="2.00" height="0.60" fill="#7a7a7a"/><rect x="996.00" y="426.90" width="2.00" height="0.60" fill="#7a7a7a"/><rect x="996.00" y="427.50" width="2.00" height="0.60" fill="#7a7a7a"/><rect x="996.00" y="428.70" width="2.00" height="0.60" fill="#7a7a7a"/><rect x="996.00" y="431.70" width="2.00" height="0.60" fill="#7a7a7a"/><rect x="996.00" y="432.90" width="2.00" height="0.60" fill="#7a7a7a"/><rect x="996.00" y="433.50" width="2.00" height="0.60" fill="#7a7a7a"/><rect x="996.00" y="434.10" width="2.00" height="0.60" fill="#7a7a7a"/><rect x="996.00" y="434.70" width="2.00" height="0.60" fill="#7a7a7a"/><rect x="996.00" y="435.30" width="2.00" height="0.60" fill="#7a7a7a"/><rect x="998.00" y="424.50" width="2.00" height="0.60" fill="#7a7a7a"/><rect x="998.00" y="425.10" width="2.00" height="0.60" fill="#7a7a7a"/><rect x="998.00" y="425.70" width="2.00" height="0.60" fill="#7a7a7a"/><rect x="998.00" y="426.90" width="2.00" height="0.60" fill="#7a7a7a"/><rect x="998.00" y="428.10" width="2.00" height="0.60" fill="#7a7a7a"/><rect x="998.00" y="429.30" width="2.00" height="0.60" fill="#7a7a7a"/><rect x="998.00" y="432.90" width="2.00" height="0.60" fill="#7a7a7a"/><rect x="998.00" y="433.50" width="2.00" height="0.60" fill="#7a7a7a"/><rect x="998.00" y="435.30" width="2.00" height="0.60" fill="#7a7a7a"/><rect x="1000.00" y="426.30" width="2.00" height="0.60" fill="#7a7a7a"/><rect x="1000.00" y="426.90" width="2.00" height="0.60" fill="#7a7a7a"/><rect x="1000.00" y="428.10" width="2.00" height="0.60" fill="#7a7a7a"/><rect x="1000.00" y="429.30" width="2.00" height="0.60" fill="#7a7a7a"/><rect x="1000.00" y="432.90" width="2.00" height="0.60" fill="#7a7a7a"/><rect x="1000.00" y="433.50" width="2.00" height="0.60" fill="#7a7a7a"/><rect x="1000.00" y="435.30" width="2.00" height="0.60" fill="#7a7a7a"/><rect x="1002.00" y="425.70" width="2.00" height="0.60" fill="#7a7a7a"/><rect x="1002.00" y="426.30" width="2.00" height="0.60" fill="#7a7a7a"/><rect x="1002.00" y="426.90" width="2.00" height="0.60" fill="#7a7a7a"/><rect x="1002.00" y="427.50" width="2.00" height="0.60" fill="#7a7a7a"/><rect x="1002.00" y="428.10" width="2.00" height="0.60" fill="#7a7a7a"/><rect x="1002.00" y="428.70" width="2.00" height="0.60" fill="#7a7a7a"/><rect x="1002.00" y="429.30" width="2.00" height="0.60" fill="#7a7a7a"/><rect x="1002.00" y="431.10" width="2.00" height="0.60" fill="#7a7a7a"/><rect x="1002.00" y="431.70" width="2.00" height="0.60" fill="#7a7a7a"/><rect x="1002.00" y="432.30" width="2.00" height="0.60" fill="#7a7a7a"/><rect x="1002.00" y="434.10" width="2.00" height="0.60" fill="#7a7a7a"/><rect x="1002.00" y="435.30" width="2.00" height="0.60" fill="#7a7a7a"/><rect x="1002.00" y="435.90" width="2.00" height="0.60" fill="#7a7a7a"/><rect x="1004.00" y="425.10" width="2.00" height="0.60" fill="#7a7a7a"/><rect x="1004.00" y="425.70" width="2.00" height="0.60" fill="#7a7a7a"/><rect x="1004.00" y="426.30" width="2.00" height="0.60" fill="#7a7a7a"/><rect x="1004.00" y="426.90" width="2.00" height="0.60" fill="#7a7a7a"/><rect x="1004.00" y="427.50" width="2.00" height="0.60" fill="#7a7a7a"/><rect x="1004.00" y="428.10" width="2.00" height="0.60" fill="#7a7a7a"/><rect x="1004.00" y="428.70" width="2.00" height="0.60" fill="#7a7a7a"/><rect x="1004.00" y="429.90" width="2.00" height="0.60" fill="#7a7a7a"/><rect x="1004.00" y="430.50" width="2.00" height="0.60" fill="#7a7a7a"/><rect x="1004.00" y="431.10" width="2.00" height="0.60" fill="#7a7a7a"/><rect x="1004.00" y="431.70" width="2.00" height="0.60" fill="#7a7a7a"/><rect x="1004.00" y="432.90" width="2.00" height="0.60" fill="#7a7a7a"/><rect x="1004.00" y="435.90" width="2.00" height="0.60" fill="#7a7a7a"/><rect x="1006.00" y="424.50" width="2.00" height="0.60" fill="#7a7a7a"/><rect x="1006.00" y="425.10" width="2.00" height="0.60" fill="#7a7a7a"/><rect x="1006.00" y="425.70" width="2.00" height="0.60" fill="#7a7a7a"/><rect x="1006.00" y="427.50" width="2.00" height="0.60" fill="#7a7a7a"/><rect x="1006.00" y="428.70" width="2.00" height="0.60" fill="#7a7a7a"/><rect x="1006.00" y="429.90" width="2.00" height="0.60" fill="#7a7a7a"/><rect x="1006.00" y="431.10" width="2.00" height="0.60" fill="#7a7a7a"/><rect x="1006.00" y="434.10" width="2.00" height="0.60" fill="#7a7a7a"/><rect x="1006.00" y="435.30" width="2.00" height="0.60" fill="#7a7a7a"/><rect x="1006.00" y="435.90" width="2.00" height="0.60" fill="#7a7a7a"/><rect x="1008.00" y="426.30" width="2.00" height="0.60" fill="#7a7a7a"/><rect x="1008.00" y="426.90" width="2.00" height="0.60" fill="#7a7a7a"/><rect x="1008.00" y="428.70" width="2.00" height="0.60" fill="#7a7a7a"/><rect x="1008.00" y="429.30" width="2.00" height="0.60" fill="#7a7a7a"/><rect x="1008.00" y="431.70" width="2.00" height="0.60" fill="#7a7a7a"/><rect x="1008.00" y="432.30" width="2.00" height="0.60" fill="#7a7a7a"/><rect x="1008.00" y="432.90" width="2.00" height="0.60" fill="#7a7a7a"/><rect x="1008.00" y="433.50" width="2.00" height="0.60" fill="#7a7a7a"/><rect x="1008.00" y="434.10" width="2.00" height="0.60" fill="#7a7a7a"/><rect x="1008.00" y="434.70" width="2.00" height="0.60" fill="#7a7a7a"/><rect x="1010.00" y="425.10" width="2.00" height="0.60" fill="#7a7a7a"/><rect x="1010.00" y="425.70" width="2.00" height="0.60" fill="#7a7a7a"/><rect x="1010.00" y="426.30" width="2.00" height="0.60" fill="#7a7a7a"/><rect x="1010.00" y="426.90" width="2.00" height="0.60" fill="#7a7a7a"/><rect x="1010.00" y="429.90" width="2.00" height="0.60" fill="#7a7a7a"/><rect x="1010.00" y="430.50" width="2.00" height="0.60" fill="#7a7a7a"/><rect x="1010.00" y="432.90" width="2.00" height="0.60" fill="#7a7a7a"/><rect x="1012.00" y="424.50" width="2.00" height="0.60" fill="#7a7a7a"/><rect x="1012.00" y="425.10" width="2.00" height="0.60" fill="#7a7a7a"/><rect x="1012.00" y="426.90" width="2.00" height="0.60" fill="#7a7a7a"/><rect x="1012.00" y="431.10" width="2.00" height="0.60" fill="#7a7a7a"/><rect x="1012.00" y="432.30" width="2.00" height="0.60" fill="#7a7a7a"/><rect x="1012.00" y="432.90" width="2.00" height="0.60" fill="#7a7a7a"/><rect x="1012.00" y="434.70" width="2.00" height="0.60" fill="#7a7a7a"/><rect x="1012.00" y="435.30" width="2.00" height="0.60" fill="#7a7a7a"/><rect x="1014.00" y="428.10" width="2.00" height="0.60" fill="#7a7a7a"/><rect x="1014.00" y="428.70" width="2.00" height="0.60" fill="#7a7a7a"/><rect x="1014.00" y="431.10" width="2.00" height="0.60" fill="#7a7a7a"/><rect x="1014.00" y="431.70" width="2.00" height="0.60" fill="#7a7a7a"/><rect x="1014.00" y="432.90" width="2.00" height="0.60" fill="#7a7a7a"/><rect x="1014.00" y="433.50" width="2.00" height="0.60" fill="#7a7a7a"/><rect x="1014.00" y="434.10" width="2.00" height="0.60" fill="#7a7a7a"/><rect x="1014.00" y="435.30" width="2.00" height="0.60" fill="#7a7a7a"/><rect x="1014.00" y="435.90" width="2.00" height="0.60" fill="#7a7a7a"/><rect x="1016.00" y="425.70" width="2.00" height="0.60" fill="#7a7a7a"/><rect x="1016.00" y="426.90" width="2.00" height="0.60" fill="#7a7a7a"/><rect x="1016.00" y="427.50" width="2.00" height="0.60" fill="#7a7a7a"/><rect x="1016.00" y="429.90" width="2.00" height="0.60" fill="#7a7a7a"/><rect x="1016.00" y="432.30" width="2.00" height="0.60" fill="#7a7a7a"/><rect x="1016.00" y="434.10" width="2.00" height="0.60" fill="#7a7a7a"/><rect x="1018.00" y="425.70" width="2.00" height="0.60" fill="#7a7a7a"/><rect x="1018.00" y="427.50" width="2.00" height="0.60" fill="#7a7a7a"/><rect x="1018.00" y="430.50" width="2.00" height="0.60" fill="#7a7a7a"/><rect x="1018.00" y="432.90" width="2.00" height="0.60" fill="#7a7a7a"/><rect x="1018.00" y="433.50" width="2.00" height="0.60" fill="#7a7a7a"/><rect x="1018.00" y="435.90" width="2.00" height="0.60" fill="#7a7a7a"/><rect x="1020.00" y="426.90" width="2.00" height="0.60" fill="#7a7a7a"/><rect x="1020.00" y="427.50" width="2.00" height="0.60" fill="#7a7a7a"/><rect x="1020.00" y="428.10" width="2.00" height="0.60" fill="#7a7a7a"/><rect x="1020.00" y="428.70" width="2.00" height="0.60" fill="#7a7a7a"/><rect x="1020.00" y="429.90" width="2.00" height="0.60" fill="#7a7a7a"/><rect x="1020.00" y="431.10" width="2.00" height="0.60" fill="#7a7a7a"/><rect x="1020.00" y="431.70" width="2.00" height="0.60" fill="#7a7a7a"/><rect x="1020.00" y="432.30" width="2.00" height="0.60" fill="#7a7a7a"/><rect x="1020.00" y="432.90" width="2.00" height="0.60" fill="#7a7a7a"/><rect x="1020.00" y="433.50" width="2.00" height="0.60" fill="#7a7a7a"/><rect x="1020.00" y="434.70" width="2.00" height="0.60" fill="#7a7a7a"/><rect x="1020.00" y="435.30" width="2.00" height="0.60" fill="#7a7a7a"/><rect x="1020.00" y="435.90" width="2.00" height="0.60" fill="#7a7a7a"/><rect x="1022.00" y="424.50" width="2.00" height="0.60" fill="#7a7a7a"/><rect x="1022.00" y="425.70" width="2.00" height="0.60" fill="#7a7a7a"/><rect x="1022.00" y="426.30" width="2.00" height="0.60" fill="#7a7a7a"/><rect x="1022.00" y="429.30" width="2.00" height="0.60" fill="#7a7a7a"/><rect x="1022.00" y="434.10" width="2.00" height="0.60" fill="#7a7a7a"/><rect x="1022.00" y="434.70" width="2.00" height="0.60" fill="#7a7a7a"/><rect x="1022.00" y="435.30" width="2.00" height="0.60" fill="#7a7a7a"/><rect x="1022.00" y="435.90" width="2.00" height="0.60" fill="#7a7a7a"/><rect x="1024.00" y="425.10" width="2.00" height="0.60" fill="#7a7a7a"/><rect x="1024.00" y="427.50" width="2.00" height="0.60" fill="#7a7a7a"/><rect x="1024.00" y="432.30" width="2.00" height="0.60" fill="#7a7a7a"/><rect x="1024.00" y="434.10" width="2.00" height="0.60" fill="#7a7a7a"/><rect x="1024.00" y="435.90" width="2.00" height="0.60" fill="#7a7a7a"/><rect x="1026.00" y="427.50" width="2.00" height="0.60" fill="#7a7a7a"/><rect x="1026.00" y="428.10" width="2.00" height="0.60" fill="#7a7a7a"/><rect x="1026.00" y="431.10" width="2.00" height="0.60" fill="#7a7a7a"/><rect x="1026.00" y="431.70" width="2.00" height="0.60" fill="#7a7a7a"/><rect x="1026.00" y="432.30" width="2.00" height="0.60" fill="#7a7a7a"/><rect x="1026.00" y="432.90" width="2.00" height="0.60" fill="#7a7a7a"/><rect x="1026.00" y="434.10" width="2.00" height="0.60" fill="#7a7a7a"/><rect x="1026.00" y="435.90" width="2.00" height="0.60" fill="#7a7a7a"/><rect x="1028.00" y="425.10" width="2.00" height="0.60" fill="#7a7a7a"/><rect x="1028.00" y="425.70" width="2.00" height="0.60" fill="#7a7a7a"/><rect x="1028.00" y="426.90" width="2.00" height="0.60" fill="#7a7a7a"/><rect x="1028.00" y="428.10" width="2.00" height="0.60" fill="#7a7a7a"/><rect x="1028.00" y="429.90" width="2.00" height="0.60" fill="#7a7a7a"/><rect x="1028.00" y="431.10" width="2.00" height="0.60" fill="#7a7a7a"/><rect x="1028.00" y="433.50" width="2.00" height="0.60" fill="#7a7a7a"/><rect x="1028.00" y="435.90" width="2.00" height="0.60" fill="#7a7a7a"/><rect x="1030.00" y="424.50" width="2.00" height="0.60" fill="#7a7a7a"/><rect x="1030.00" y="425.10" width="2.00" height="0.60" fill="#7a7a7a"/><rect x="1030.00" y="425.70" width="2.00" height="0.60" fill="#7a7a7a"/><rect x="1030.00" y="426.30" width="2.00" height="0.60" fill="#7a7a7a"/><rect x="1030.00" y="427.50" width="2.00" height="0.60" fill="#7a7a7a"/><rect x="1030.00" y="428.70" width="2.00" height="0.60" fill="#7a7a7a"/><rect x="1030.00" y="429.30" width="2.00" height="0.60" fill="#7a7a7a"/><rect x="1030.00" y="431.10" width="2.00" height="0.60" fill="#7a7a7a"/><rect x="1030.00" y="431.70" width="2.00" height="0.60" fill="#7a7a7a"/><rect x="1030.00" y="432.30" width="2.00" height="0.60" fill="#7a7a7a"/><rect x="1030.00" y="432.90" width="2.00" height="0.60" fill="#7a7a7a"/><rect x="1030.00" y="433.50" width="2.00" height="0.60" fill="#7a7a7a"/><rect x="1030.00" y="434.70" width="2.00" height="0.60" fill="#7a7a7a"/><rect x="1032.00" y="426.30" width="2.00" height="0.60" fill="#7a7a7a"/><rect x="1032.00" y="427.50" width="2.00" height="0.60" fill="#7a7a7a"/><rect x="1032.00" y="428.70" width="2.00" height="0.60" fill="#7a7a7a"/><rect x="1032.00" y="431.10" width="2.00" height="0.60" fill="#7a7a7a"/><rect x="1032.00" y="432.90" width="2.00" height="0.60" fill="#7a7a7a"/><rect x="1032.00" y="435.30" width="2.00" height="0.60" fill="#7a7a7a"/><rect x="1034.00" y="425.10" width="2.00" height="0.60" fill="#7a7a7a"/><rect x="1034.00" y="425.70" width="2.00" height="0.60" fill="#7a7a7a"/><rect x="1034.00" y="426.90" width="2.00" height="0.60" fill="#7a7a7a"/><rect x="1034.00" y="428.70" width="2.00" height="0.60" fill="#7a7a7a"/><rect x="1034.00" y="429.90" width="2.00" height="0.60" fill="#7a7a7a"/><rect x="1034.00" y="431.10" width="2.00" height="0.60" fill="#7a7a7a"/><rect x="1034.00" y="431.70" width="2.00" height="0.60" fill="#7a7a7a"/><rect x="1034.00" y="432.30" width="2.00" height="0.60" fill="#7a7a7a"/><rect x="1034.00" y="433.50" width="2.00" height="0.60" fill="#7a7a7a"/><rect x="1034.00" y="434.10" width="2.00" height="0.60" fill="#7a7a7a"/>

<!-- loose strip loops -->
<g fill="none">
<path d="M1247 394 C1238 368 1210 360 1190 366 C1168 373 1170 420 1190 437 C1208 452 1244 448 1256 430 C1262 420 1250 400 1226 395 C1204 392 1186 404 1189 420 C1192 436 1216 446 1240 442 C1256 438 1262 425 1257 412" stroke="#e8dcb8" stroke-width="4"/>
<path d="M1247 394 C1238 368 1210 360 1190 366 C1168 373 1170 420 1190 437 C1208 452 1244 448 1256 430 C1262 420 1250 400 1226 395 C1204 392 1186 404 1189 420 C1192 436 1216 446 1240 442 C1256 438 1262 425 1257 412" stroke="#f2d748" stroke-width="1.2" stroke-dasharray="30 8"/>
</g>
<!-- wires -->
<path d="M1224.5 394.5 C1205 396 1185 402 1172 416 C1168 421 1165 425 1163 428" fill="none" stroke="#2a2a2a" stroke-width="1.2"/>
<path d="M1224.5 393.2 C1205 394.8 1184 401 1171 415 C1167 420 1164 424 1162 427" fill="none" stroke="#c8283a" stroke-width="1.2"/>
<!-- reel -->
<g transform="rotate(18 1281 366)">
<ellipse cx="1281" cy="366" rx="31.5" ry="40.5" fill="#f1e6e2" stroke="#e4d6d0" stroke-width="1"/>
<ellipse cx="1281" cy="366" rx="25" ry="32.5" fill="#b39f7a"/>
<ellipse cx="1281" cy="366" rx="25" ry="32.5" fill="none" stroke="#efd34a" stroke-width="1.6" stroke-dasharray="40 25"/>
<clipPath id="reelc"><ellipse cx="1281" cy="366" rx="25" ry="32.5"/></clipPath>
<g fill="#f1e7e3" clip-path="url(#reelc)" transform="rotate(35 1281 366)">
<rect x="1276.5" y="320" width="9" height="92"/>
<rect x="1240" y="361.5" width="82" height="9"/>
</g>
<ellipse cx="1281" cy="366" rx="10" ry="12.5" fill="#f6efed"/>
<ellipse cx="1281" cy="366" rx="5" ry="6.5" fill="#e8dcd8"/>
</g>


<defs>
<clipPath id="cuc"><rect x="804.7" y="590.3" width="128.3" height="126.4"/></clipPath>
<pattern id="pleat1" width="5" height="10" patternUnits="userSpaceOnUse">
<rect width="5" height="10" fill="#b3a792"/><rect width="1.6" height="10" fill="#9c907c"/><rect x="3" width="1" height="10" fill="#c6bba8"/>
</pattern>
<pattern id="sheer" width="6" height="10" patternUnits="userSpaceOnUse">
<rect width="6" height="10" fill="#f7f7f6"/><rect x="2" width="1.2" height="10" fill="#e8e8e6"/>
</pattern>
<linearGradient id="cufloor" x1="0" y1="0" x2="0" y2="1"><stop offset="0" stop-color="#e4d9cc"/><stop offset="1" stop-color="#ede4da"/></linearGradient>
</defs>
<g clip-path="url(#cuc)">
<rect x="804.7" y="590.3" width="128.3" height="126.4" fill="#f2ede6"/>
<!-- ceiling soffit -->
<polygon points="804.7,590.3 933.0,590.3 933.0,593.3 804.7,608.3" fill="#f7f5f1"/>
<polygon points="804.7,608.3 933.0,593.3 933.0,596.3 804.7,616.3" fill="#e8e2da"/>
<!-- left wall -->
<rect x="804.7" y="616.3" width="17" height="100.4" fill="#decab0"/>
<!-- mirror -->
<rect x="804.7" y="640.3" width="12" height="23" rx="3" fill="#c8c0b4"/>
<rect x="804.7" y="641.3" width="6" height="21" fill="#f4f4f4"/>
<!-- cabinet -->
<rect x="804.7" y="684.3" width="13" height="14" fill="#a56a3e"/>
<circle cx="808.7" cy="680.3" r="2.5" fill="#e8e4da"/><rect x="808.2" y="681.3" width="1" height="3" fill="#8a8a7a"/>
<!-- floor -->
<rect x="804.7" y="698.3" width="128.3" height="18.400000000000006" fill="url(#cufloor)"/>
<!-- left patterned curtain -->
<rect x="821.1" y="615.3" width="13.5" height="85" fill="url(#pleat1)"/>
<rect x="834.2" y="613.3" width="5.5" height="87" fill="#b26c34"/>
<!-- sheer -->
<polygon points="839.7,610.3 888.4000000000001,598.3 888.4000000000001,712.3 839.7,710.3" fill="url(#sheer)"/>
<!-- right curtains -->
<rect x="888.4000000000001" y="596.3" width="5.6" height="120.4" fill="#ae6830"/>
<rect x="894.0" y="590.8" width="29.9" height="126.4" fill="url(#pleat1)"/>
<rect x="923.9000000000001" y="590.3" width="9.1" height="126.4" fill="#ece6dc"/>
<!-- plant -->
<g fill="#4f7a3a"><ellipse cx="930.7" cy="680.3" rx="3" ry="1.4" transform="rotate(20 930.7 680.3)"/><ellipse cx="925.7" cy="708.3" rx="3" ry="1.4" transform="rotate(-20 925.7 708.3)"/><ellipse cx="924.7" cy="693.3" rx="3" ry="1.6" transform="rotate(-30 924.7 693.3)"/><ellipse cx="928.7" cy="687.3" rx="3.5" ry="1.5" transform="rotate(30 928.7 687.3)"/><ellipse cx="922.7" cy="702.3" rx="3.5" ry="1.5" transform="rotate(-40 922.7 702.3)"/><ellipse cx="929.7" cy="698.3" rx="3" ry="1.5"/></g>
</g>


<defs>
<clipPath id="soc"><rect x="949.7" y="590.3" width="128.5" height="128"/></clipPath>
<linearGradient id="sobg" x1="0" y1="0" x2="1" y2="0.3"><stop offset="0" stop-color="#d9d9d9"/><stop offset="0.6" stop-color="#e2e2e2"/><stop offset="1" stop-color="#dedede"/></linearGradient>
<linearGradient id="soplate" x1="0" y1="0" x2="1" y2="0"><stop offset="0" stop-color="#ececec"/><stop offset="0.3" stop-color="#f4f4f4"/><stop offset="1" stop-color="#f1f1f1"/></linearGradient>
<filter id="soblur" x="-0.5" y="-0.5" width="2" height="2"><feGaussianBlur stdDeviation="5"/></filter>
<filter id="soblur2" x="-0.5" y="-0.5" width="2" height="2"><feGaussianBlur stdDeviation="2.5"/></filter>
</defs>
<g clip-path="url(#soc)">
<rect x="949.7" y="590.3" width="128.5" height="128" fill="url(#sobg)"/>
<polygon points="963.7,630.3 983.7,614.3 985.7,712.3 965.7,706.3" fill="#a9a9a9" filter="url(#soblur)"/>
<path d="M983.7 611.3 L1043.7 601.3 Q1051.7 600.3 1052.2 608.3 L1053.2 683.3 Q1053.2 689.3 1046.7 690.8 L987.7 706.3 Q978.7 707.8 978.2 699.3 L977.2 620.3 Q977.2 612.3 983.7 611.3 Z" fill="#e0e0e0"/>
<path d="M987.7 610.3 L1043.7 601.3 Q1051.7 600.3 1051.7 608.3 L1051.7 681.3 Q1051.7 687.3 1045.7 688.8 L990.7 702.3 Q982.7 703.8 982.7 696.3 L982.7 618.3 Q982.7 611.3 987.7 610.3 Z" fill="url(#soplate)"/>
<line x1="989.7" y1="610.3" x2="989.7" y2="701.3" stroke="#e2e2e2" stroke-width="0.8"/>
<!-- top socket holes -->
<rect x="1008.7" y="617.8" width="4.2" height="6.5" rx="1.5" fill="#1c1c1c"/>
<rect x="1016.0" y="617.3" width="1.5" height="6.5" fill="#3a3a3a"/>
<rect x="1021.0" y="616.8" width="4.2" height="6.5" rx="1.5" fill="#1c1c1c"/>
<!-- shadow of plug on plate -->
<polygon points="989.7,642.3 1006.7,640.3 1009.7,682.3 991.7,694.3" fill="#c4c4c4" filter="url(#soblur2)"/>
<!-- plug cube -->
<polygon points="1006.8,640.6 1030.4,635.0 1058.4,646.8 1037.0,652.4" fill="#f6f6f6"/>
<polygon points="1006.8,640.6 1037.0,652.4 1037.0,679.3 1006.8,667.0" fill="#e2e2e2"/>
<polygon points="1037.0,652.4 1058.4,646.8 1058.4,667.0 1037.0,679.3" fill="#f0f0f0"/>
<rect x="1024.7" y="642.8" width="5" height="1.2" fill="#b0b0b0"/><rect x="1039.7" y="642.3" width="1.2" height="2.5" fill="#888"/>
<!-- lower holes -->
<rect x="1013.2" y="682.8" width="1.5" height="5" fill="#2a2a2a" transform="rotate(-25 1013.2 682.8)"/>
<rect x="1026.2" y="678.3" width="1.5" height="6.5" fill="#2a2a2a" transform="rotate(25 1026.2 678.3)"/>
<!-- cable -->
<path d="M1043.7 663.5999999999999 C1055.7 666.3 1067.7 676.3 1072.7 690.3 C1075.7 700.3 1077.2 710.3 1077.7 720.3" fill="none" stroke="#f4f4f4" stroke-width="4.5"/>
<path d="M1043.7 665.5999999999999 C1055.7 668.3 1066.7 678.3 1071.2 691.3 C1073.7 701.3 1075.2 710.3 1075.7 720.3" fill="none" stroke="#cfcfcf" stroke-width="0.7"/>
<polygon points="1041.7,658.3 1049.7,660.3 1053.7,670.3 1044.7,670.3" fill="#dedede"/>
<g stroke="#b8b8b8" stroke-width="0.6"><line x1="1046.7" y1="660.3" x2="1047.7" y2="669.3"/><line x1="1048.7" y1="660.8" x2="1050.2" y2="669.8"/><line x1="1050.7" y1="661.3" x2="1052.2" y2="670.3"/></g>
</g>


<defs>
<clipPath id="loc"><rect x="1095.3" y="589" width="123.7" height="129.6"/></clipPath>
<pattern id="wood" width="3" height="20" patternUnits="userSpaceOnUse">
<rect width="3" height="20" fill="#2e3135"/><rect width="0.8" height="20" fill="#34373b"/>
</pattern>
<linearGradient id="rose" x1="0" y1="0" x2="1" y2="0"><stop offset="0" stop-color="#b07a64"/><stop offset="0.5" stop-color="#d4a08a"/><stop offset="1" stop-color="#a87260"/></linearGradient>
<linearGradient id="lobg" x1="0" y1="0" x2="1" y2="0"><stop offset="0" stop-color="#c8c9cb"/><stop offset="1" stop-color="#d0d1d3"/></linearGradient>
</defs>
<g clip-path="url(#loc)">
<rect x="1095.3" y="589" width="123.7" height="129.6" fill="url(#lobg)"/>
<rect x="1115.3" y="589" width="8" height="129.6" fill="#dcdcdd"/>
<rect x="1095.3" y="665" width="39" height="6" fill="#e4e4e4"/>
<rect x="1095.3" y="671" width="39" height="3" fill="#b8b8b8"/>
<rect x="1095.3" y="697" width="39" height="21.599999999999994" fill="#d6d6d6"/>
<ellipse cx="1101.8" cy="659" rx="5" ry="5.5" fill="#f0eeea"/>
<ellipse cx="1101.3" cy="651" rx="4.5" ry="3" fill="#6f9a4c"/>
<rect x="1134.5" y="589" width="6.6" height="129.6" fill="#5d6166"/>
<rect x="1135.3" y="630" width="5" height="62" rx="2" fill="#f0f0f0"/>
<rect x="1136.5" y="645" width="2.6" height="4" fill="#8a7060"/><rect x="1136.5" y="660" width="2.6" height="4" fill="#8a7060"/>
<rect x="1141.1" y="589" width="77.9" height="129.6" fill="url(#wood)"/>
<!-- lock body -->
<rect x="1149.5" y="605.3" width="22.4" height="100.7" rx="2.5" fill="url(#rose)"/>
<rect x="1152.3" y="607.3" width="17.6" height="77.5" rx="1.5" fill="#0c0c0e"/>
<rect x="1158.3" y="611" width="6" height="2" fill="#8a8a8a"/>
<g fill="#5a5a5a">
<circle cx="1156.8" cy="621" r="0.6"/><circle cx="1161.3" cy="621" r="0.6"/><circle cx="1165.8" cy="621" r="0.6"/>
<circle cx="1156.8" cy="625.5" r="0.6"/><circle cx="1161.3" cy="625.5" r="0.6"/><circle cx="1165.8" cy="625.5" r="0.6"/>
<circle cx="1156.8" cy="630" r="0.6"/><circle cx="1161.3" cy="630" r="0.6"/><circle cx="1165.8" cy="630" r="0.6"/>
<circle cx="1156.8" cy="634.5" r="0.6"/><circle cx="1161.3" cy="634.5" r="0.6"/><circle cx="1165.8" cy="634.5" r="0.6"/>
</g>
<rect x="1159.3" y="645" width="4" height="3" fill="none" stroke="#6a6a6a" stroke-width="0.5"/>
<!-- handle -->
<rect x="1157.3" y="660.5" width="44" height="7" rx="3.5" fill="#c99480"/>
<rect x="1163.3" y="662" width="36.5" height="4" rx="2" fill="#0c0c0e"/>
<circle cx="1161.6" cy="664.1" r="5.2" fill="#c08a74"/>
<circle cx="1161.6" cy="664.1" r="3.2" fill="#d8a892"/>
</g>

<g fill="#000"><circle cx="1274.4" cy="771.2" r="2.4"/><circle cx="1284.2" cy="771.2" r="2.4"/><circle cx="1293.9" cy="771.2" r="2.4"/></g>
<text class="sa" x="55.5" y="135.1" style="font-size:27.6px">Internet</text>
<text class="sa" x="74.6" y="636.4" style="font-size:29.3px">APP</text>
<text class="sm" x="68.20 91.20 114.20" y="0" transform="translate(0 428.20) scale(1 0.945)">路由器</text>
<text class="sm" x="36.40 59.30 82.20 105.10 128.00 150.90" y="0" transform="translate(0 739.60) scale(1 0.945)">智能家居平台</text>
<text class="sm" x="357.50 380.00 402.50 425.00" y="0" transform="translate(0 480.40) scale(1 0.945)">智慧音箱</text>
<line x1="449.6" y1="482.6" x2="456.4" y2="461.8" stroke="#000" stroke-width="1.7"/>
<text class="sm" x="460.50 483.30" y="0" transform="translate(0 480.40) scale(1 0.945)">中枢</text>
<text class="lt" transform="translate(837.12 260.30) scale(0.583 1)">X</text>
<text class="lt" transform="translate(851.77 260.30) scale(0.634 1)">L</text>
<text class="lt" transform="translate(866.42 260.30) scale(0.681 1)">C</text>
<rect x="874.47" y="249.40" width="13.2" height="1.5" fill="#000"/>
<text class="lt" transform="translate(895.72 260.30) scale(0.549 1)">M</text>
<text class="lt" transform="translate(910.37 260.30) scale(0.630 1)">A</text>
<text class="cj" x="917.70 947.00" y="0" transform="translate(0 260.30) scale(1 0.84)">系列</text>
<text class="lt" transform="translate(983.62 260.30) scale(0.634 1)">L</text>
<text class="lt" transform="translate(998.27 260.30) scale(0.661 1)">E</text>
<text class="lt" transform="translate(1012.92 260.30) scale(0.606 1)">D</text>
<text class="cj" x="1020.25 1049.55 1078.85 1106.15 1137.45 1166.75 1202.05" y="0" transform="translate(0 260.30) scale(1 0.84)">驱动器（恒流）</text>
<text class="lt" transform="translate(838.53 514.00) scale(0.583 1)">X</text>
<text class="lt" transform="translate(853.18 514.00) scale(0.634 1)">L</text>
<text class="lt" transform="translate(867.83 514.00) scale(0.681 1)">C</text>
<rect x="875.88" y="503.10" width="13.2" height="1.5" fill="#000"/>
<text class="lt" transform="translate(897.12 514.00) scale(0.549 1)">M</text>
<text class="lt" transform="translate(911.77 514.00) scale(0.630 1)">A</text>
<text class="cj" x="919.10 948.40" y="0" transform="translate(0 514.00) scale(1 0.84)">系列</text>
<text class="lt" transform="translate(985.02 514.00) scale(0.634 1)">L</text>
<text class="lt" transform="translate(999.67 514.00) scale(0.661 1)">E</text>
<text class="lt" transform="translate(1014.32 514.00) scale(0.606 1)">D</text>
<text class="cj" x="1021.65 1050.95 1080.25 1107.55 1138.85 1168.15 1203.45" y="0" transform="translate(0 514.00) scale(1 0.84)">驱动器（恒压）</text>
<text class="cj" x="798.00 827.30" y="0" transform="translate(0 781.80) scale(1 0.84)">支持</text>
<text class="lt" transform="translate(863.93 781.80) scale(0.549 1)">M</text>
<text class="lt" transform="translate(878.58 781.80) scale(0.910 1)">a</text>
<text class="lt" transform="translate(893.23 781.80) scale(1.151 1)">t</text>
<text class="lt" transform="translate(907.88 781.80) scale(1.151 1)">t</text>
<text class="lt" transform="translate(922.52 781.80) scale(0.948 1)">e</text>
<text class="lt" transform="translate(937.17 781.80) scale(1.163 1)">r</text>
<text class="cj" x="944.50 973.80 1003.10 1032.40 1061.70 1091.00 1120.30 1149.60 1178.90 1208.20 1237.50" y="0" transform="translate(0 781.80) scale(1 0.84)">的智能窗帘、插座、门锁</text>

</svg>
</body>
</html>
